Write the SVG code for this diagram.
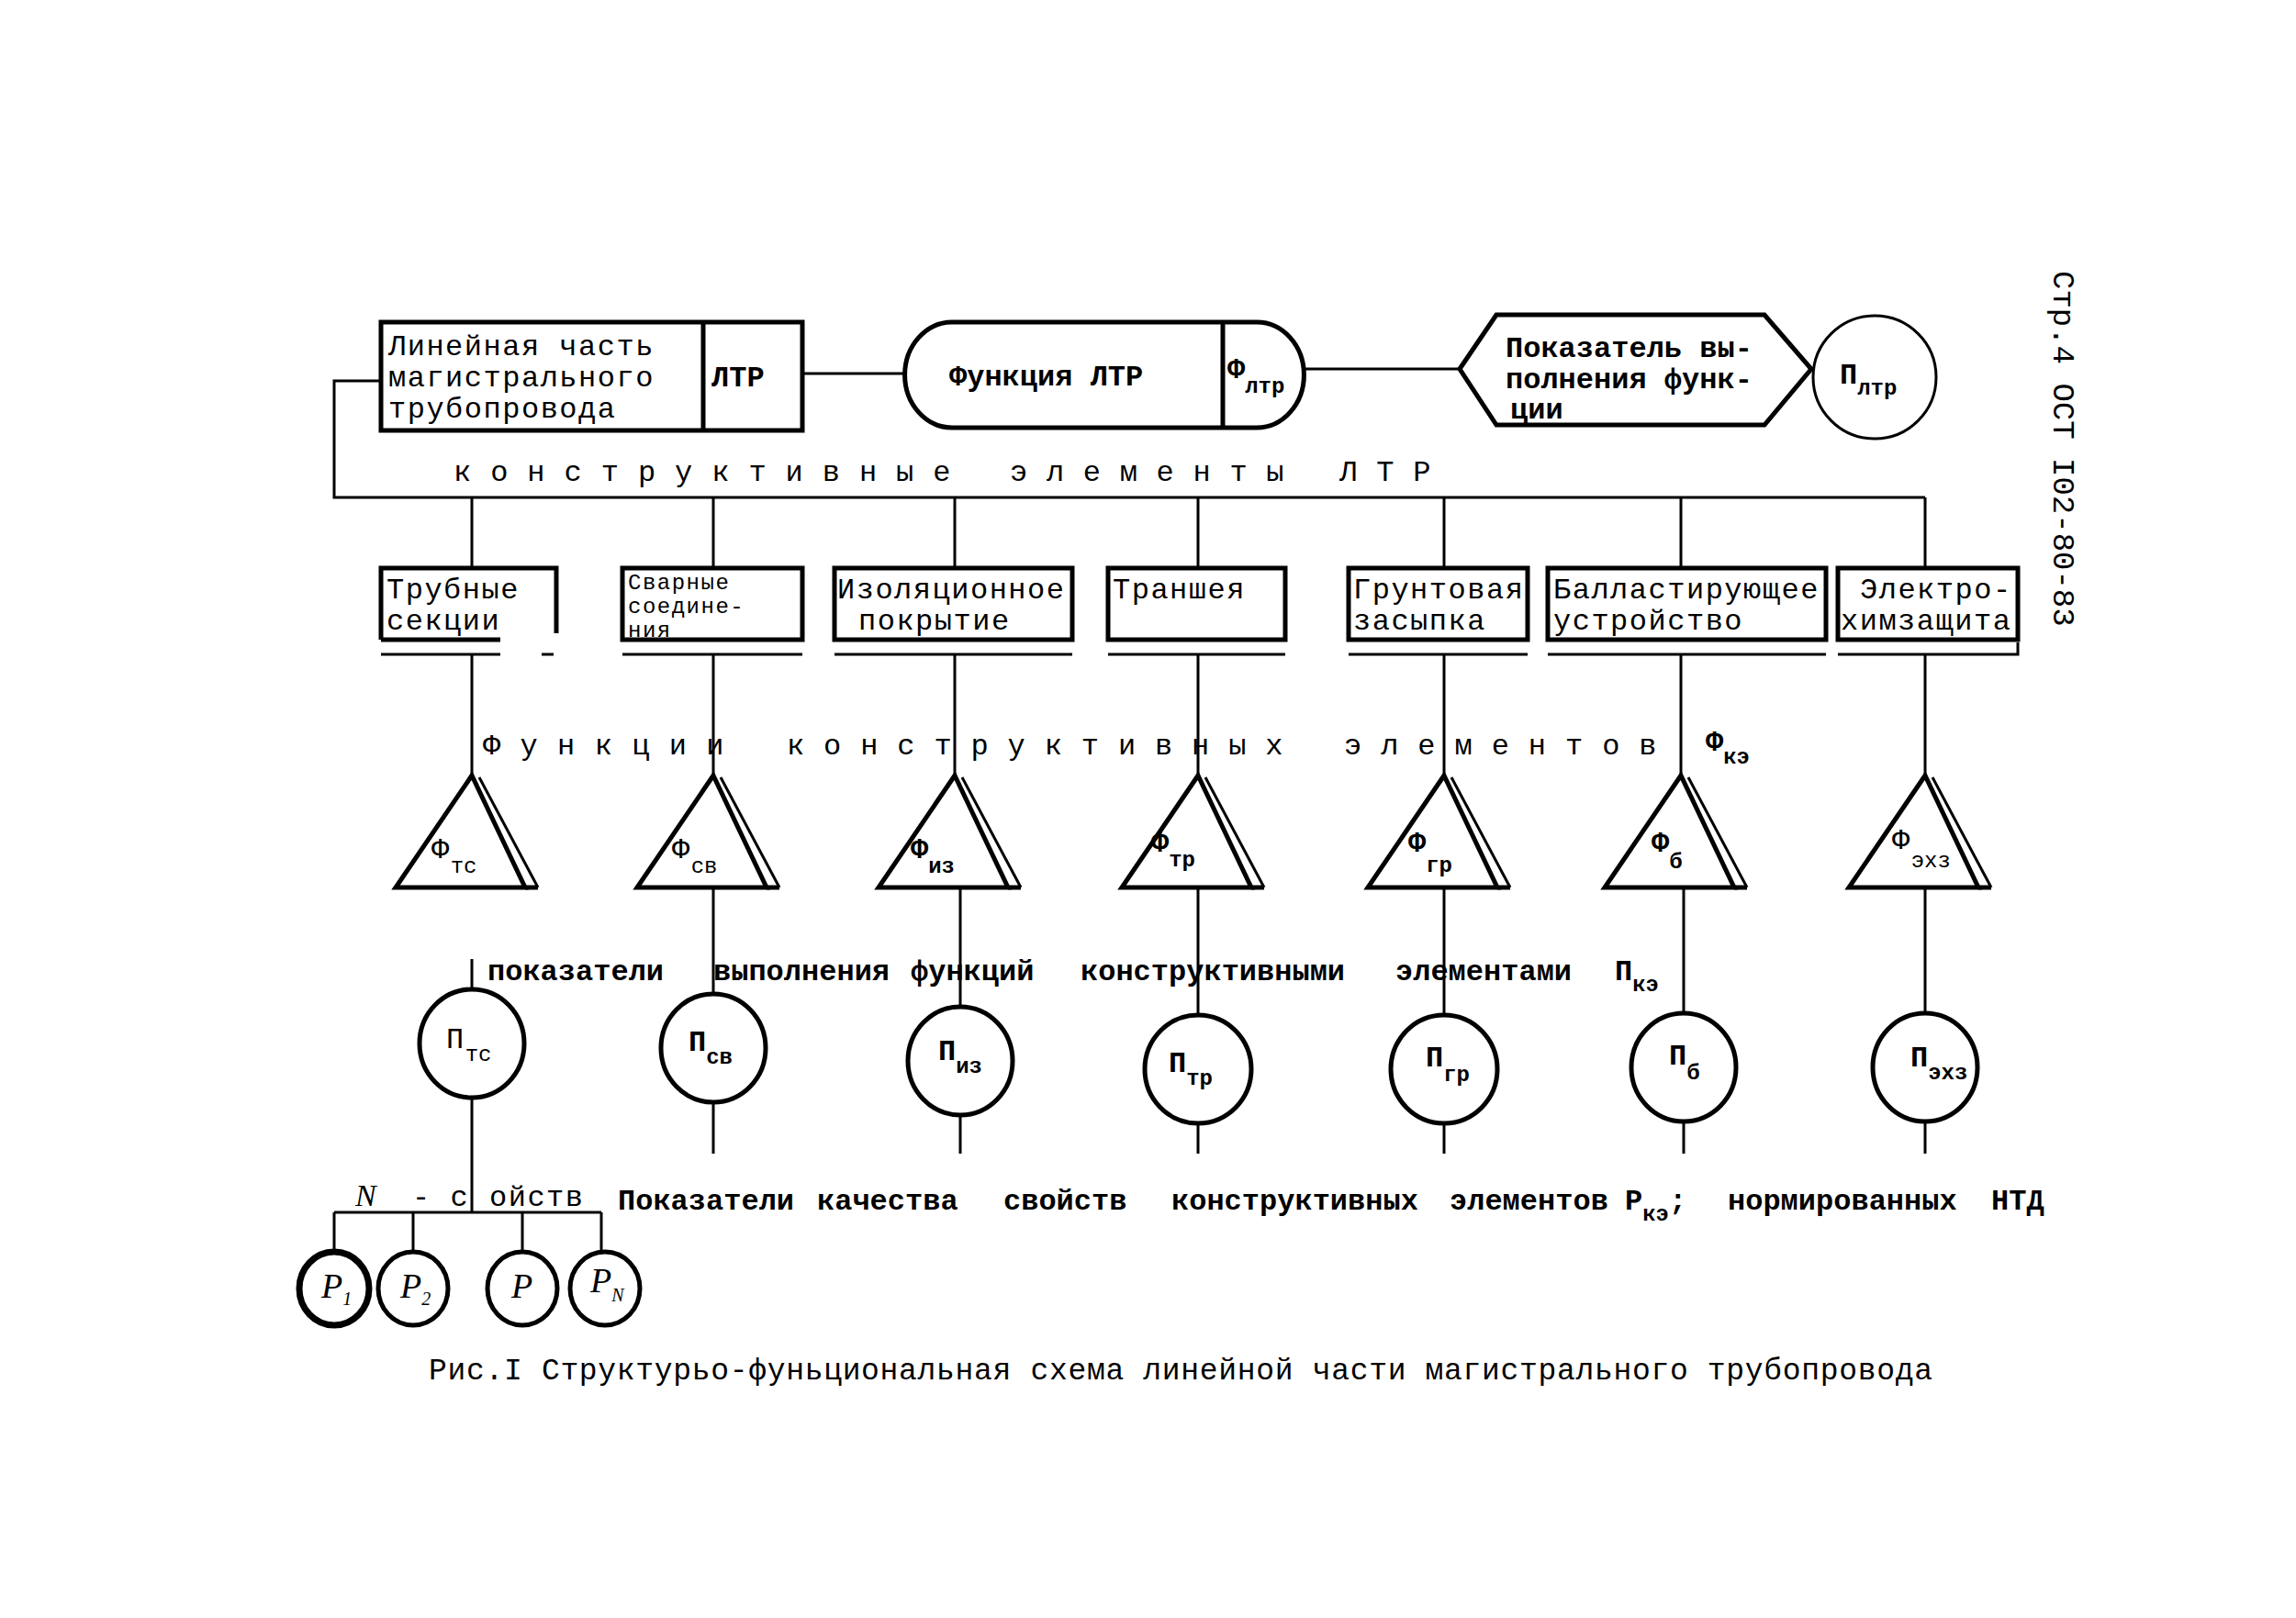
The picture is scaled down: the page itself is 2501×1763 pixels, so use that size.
<svg xmlns="http://www.w3.org/2000/svg" width="2501" height="1763" viewBox="0 0 2501 1763">
<style>
.n{fill:none;stroke:#000;stroke-width:5}
.c{fill:none;stroke:#000;stroke-width:3}
.t{font-family:"Liberation Mono","DejaVu Sans Mono",monospace;font-size:32px;letter-spacing:1.5px;fill:#000}
.b{font-weight:bold;letter-spacing:0}
.s{font-size:24px;letter-spacing:0}
.i{font-family:"Liberation Serif",serif;font-style:italic;font-size:38px;fill:#000}
</style>
<defs>
  <g id="tri">
    <path class="n" d="M0 0 L-83 122 H58 Z"/>
    <path class="n" d="M58 122 H72"/>
    <path class="c" d="M8 2 L72 122"/>
  </g>
</defs>
<rect width="2501" height="1763" fill="#fff"/>

<g id="connectors">
  <path class="c" d="M874 407 H986"/>
  <path class="c" d="M1420 402 H1590"/>
  <path class="c" d="M415 415 H364 V542 H2097"/>
  <path class="c" d="M514 542 V619 M777 542 V619 M1040 542 V619 M1305 542 V619 M1573 542 V619 M1831 542 V619 M2097 542 V619"/>
  <path class="c" d="M514 713 V845 M777 713 V845 M1040 713 V845 M1305 713 V845 M1573 713 V845 M1831 713 V845 M2097 713 V845"/>
  <path class="c" d="M514 1045 V1078 M777 967 V1083 M1046 967 V1097 M1305 967 V1106 M1573 967 V1106 M1834 967 V1104 M2097 967 V1104"/>
  <path class="c" d="M514 1196 V1321 M777 1201 V1257 M1046 1215 V1257 M1305 1224 V1257 M1573 1224 V1257 M1834 1222 V1257 M2097 1222 V1257"/>
  <path class="c" d="M364 1321 H655 M364 1321 V1364 M450 1321 V1364 M569 1321 V1364 M655 1321 V1364"/>
</g>

<g id="ltr-box">
  <rect class="n" x="415" y="351" width="459" height="118"/>
  <path class="n" d="M766 351 V469"/>
  <text class="t" x="423" y="387">Линейная часть</text>
  <text class="t" x="423" y="421">магистрального</text>
  <text class="t" x="423" y="455">трубопровода</text>
  <text class="t b" x="775" y="421">ЛТР</text>
</g>

<g id="ltr-function">
  <path class="n" d="M1037 351 H1369 A51 57 0 0 1 1369 466 H1037 A51 57 0 0 1 1037 351 Z"/>
  <path class="n" d="M1332 351 V466"/>
  <text class="t b" x="1034" y="420">Функция ЛТР</text>
  <text class="t b" x="1337" y="412">Ф<tspan class="s" dy="16">лтр</tspan></text>
</g>

<g id="ltr-indicator">
  <path class="n" d="M1590 402 L1630 343 H1922 L1973 402 L1922 463 H1630 Z"/>
  <text class="t b" x="1640" y="389">Показатель вы-</text>
  <text class="t b" x="1640" y="423">полнения функ-</text>
  <text class="t b" x="1645" y="456">ции</text>
</g>

<g id="p-ltr">
  <circle class="c" cx="2042" cy="411" r="67"/>
  <text class="t b" x="2004" y="418">П<tspan class="s" dy="12">лтр</tspan></text>
</g>

<g id="label-elements">
  <text class="t" x="494" y="524" textLength="543" lengthAdjust="spacing">к о н с т р у к т и в н ы е</text>
  <text class="t" x="1100" y="524" textLength="300" lengthAdjust="spacing">э л е м е н т ы</text>
  <text class="t" x="1459" y="524" textLength="101" lengthAdjust="spacing">Л Т Р</text>
</g>

<g id="el-1">
  <path class="n" d="M415 697 V619 H606 V690"/>
  <path class="n" d="M415 697 H545"/>
  <path class="c" d="M415 713 H545 M590 713 H603"/>
  <text class="t" x="421" y="652">Трубные</text>
  <text class="t" x="421" y="686">секции</text>
</g>
<g id="el-2">
  <rect class="n" x="678" y="619" width="196" height="78"/>
  <path class="c" d="M678 713 H874"/>
  <text class="t" x="684" y="642" style="font-size:24px">Сварные</text>
  <text class="t" x="684" y="668" style="font-size:24px">соедине-</text>
  <text class="t" x="684" y="694" style="font-size:24px">ния</text>
</g>
<g id="el-3">
  <rect class="n" x="909" y="619" width="259" height="78"/>
  <path class="c" d="M909 713 H1168"/>
  <text class="t" x="912" y="652">Изоляционное</text>
  <text class="t" x="935" y="686">покрытие</text>
</g>
<g id="el-4">
  <rect class="n" x="1207" y="619" width="193" height="78"/>
  <path class="c" d="M1207 713 H1400"/>
  <text class="t" x="1212" y="652">Траншея</text>
</g>
<g id="el-5">
  <rect class="n" x="1469" y="619" width="195" height="78"/>
  <path class="c" d="M1469 713 H1664"/>
  <text class="t" x="1474" y="652">Грунтовая</text>
  <text class="t" x="1474" y="686">засыпка</text>
</g>
<g id="el-6">
  <rect class="n" x="1686" y="619" width="303" height="78"/>
  <path class="c" d="M1686 713 H1989"/>
  <text class="t" x="1692" y="652">Балластирующее</text>
  <text class="t" x="1692" y="686">устройство</text>
</g>
<g id="el-7">
  <rect class="n" x="2002" y="619" width="196" height="78"/>
  <path class="c" d="M2002 713 H2198 V700"/>
  <text class="t" x="2026" y="652">Электро-</text>
  <text class="t" x="2005" y="686">химзащита</text>
</g>

<g id="label-functions">
  <text class="t" x="526" y="822" textLength="264" lengthAdjust="spacing">Ф у н к ц и и</text>
  <text class="t" x="857" y="822" textLength="542" lengthAdjust="spacing">к о н с т р у к т и в н ы х</text>
  <text class="t" x="1464" y="822" textLength="342" lengthAdjust="spacing">э л е м е н т о в</text>
  <text class="t b" x="1858" y="818">Ф<tspan class="s" dy="14">кэ</tspan></text>
</g>

<g id="f-1">
  <use href="#tri" x="514" y="845"/>
  <text class="t" x="470" y="935">Ф<tspan class="s" dy="16">тс</tspan></text>
</g>
<g id="f-2">
  <use href="#tri" x="777" y="845"/>
  <text class="t" x="732" y="935">Ф<tspan class="s" dy="16">св</tspan></text>
</g>
<g id="f-3">
  <use href="#tri" x="1040" y="845"/>
  <text class="t b" x="992" y="935">Ф<tspan class="s" dy="16">из</tspan></text>
</g>
<g id="f-4">
  <use href="#tri" x="1305" y="845"/>
  <text class="t b" x="1254" y="928">Ф<tspan class="s" dy="16">тр</tspan></text>
</g>
<g id="f-5">
  <use href="#tri" x="1573" y="845"/>
  <text class="t b" x="1534" y="928">Ф<tspan class="s" dy="22">гр</tspan></text>
</g>
<g id="f-6">
  <use href="#tri" x="1831" y="845"/>
  <text class="t b" x="1799" y="928">Ф<tspan class="s" dy="18">б</tspan></text>
</g>
<g id="f-7">
  <use href="#tri" x="2097" y="845"/>
  <text class="t" x="2061" y="925">Ф<tspan class="s" dy="20">эхз</tspan></text>
</g>

<g id="pke-label">
  <text class="t b" x="531" y="1068">показатели</text>
  <text class="t b" x="777" y="1068">выполнения</text>
  <text class="t b" x="992" y="1068">функций</text>
  <text class="t b" x="1177" y="1068">конструктивными</text>
  <text class="t b" x="1520" y="1068">элементами</text>
  <text class="t b" x="1759" y="1068">П<tspan class="s" dy="12">кэ</tspan></text>
</g>

<g id="p-1">
  <ellipse class="n" cx="514" cy="1137" rx="57" ry="59"/>
  <text class="t" x="486" y="1142">П<tspan class="s" dy="14">тс</tspan></text>
</g>
<g id="p-2">
  <ellipse class="n" cx="777" cy="1142" rx="57" ry="59"/>
  <text class="t b" x="750" y="1145">П<tspan class="s" dy="14">св</tspan></text>
</g>
<g id="p-3">
  <ellipse class="n" cx="1046" cy="1156" rx="57" ry="59"/>
  <text class="t b" x="1022" y="1155">П<tspan class="s" dy="14">из</tspan></text>
</g>
<g id="p-4">
  <ellipse class="n" cx="1305" cy="1165" rx="58" ry="59"/>
  <text class="t b" x="1273" y="1168">П<tspan class="s" dy="14">тр</tspan></text>
</g>
<g id="p-5">
  <ellipse class="n" cx="1573" cy="1165" rx="58" ry="59"/>
  <text class="t b" x="1553" y="1162">П<tspan class="s" dy="16">гр</tspan></text>
</g>
<g id="p-6">
  <ellipse class="n" cx="1834" cy="1163" rx="57" ry="59"/>
  <text class="t b" x="1818" y="1160">П<tspan class="s" dy="16">б</tspan></text>
</g>
<g id="p-7">
  <ellipse class="n" cx="2097" cy="1163" rx="57" ry="59"/>
  <text class="t b" x="2081" y="1162">П<tspan class="s" dy="14">эхз</tspan></text>
</g>

<g id="n-props-label">
  <text class="i" x="387" y="1314" style="font-size:34px">N</text>
  <text class="t" x="449" y="1314">- с</text>
  <text class="t" x="533" y="1314">ойств</text>
</g>
<g id="pke-quality">
  <text class="t b" x="673" y="1318">Показатели</text>
  <text class="t b" x="890" y="1318">качества</text>
  <text class="t b" x="1093" y="1318">свойств</text>
  <text class="t b" x="1276" y="1318">конструктивных</text>
  <text class="t b" x="1579" y="1318">элементов</text>
  <text class="t b" x="1770" y="1318">P<tspan class="s" dy="12">кэ</tspan><tspan dy="-12">;</tspan></text>
  <text class="t b" x="1882" y="1318">нормированных</text>
  <text class="t b" x="2169" y="1318">НТД</text>
</g>

<g id="prop-1">
  <ellipse class="n" cx="364" cy="1404" rx="38" ry="40" style="stroke-width:7"/>
  <text class="i" x="350" y="1414">P<tspan style="font-size:20px" dy="8">1</tspan></text>
</g>
<g id="prop-2">
  <ellipse class="n" cx="450" cy="1404" rx="38" ry="40"/>
  <text class="i" x="436" y="1414">P<tspan style="font-size:20px" dy="8">2</tspan></text>
</g>
<g id="prop-3">
  <ellipse class="n" cx="569" cy="1404" rx="38" ry="40"/>
  <text class="i" x="557" y="1414">P</text>
</g>
<g id="prop-4">
  <ellipse class="n" cx="659" cy="1404" rx="38" ry="40"/>
  <text class="i" x="643" y="1408">P<tspan style="font-size:20px" dy="10">N</tspan></text>
</g>

<text class="t" x="467" y="1503" style="font-size:33px;letter-spacing:0" textLength="1638" lengthAdjust="spacing">Рис.I  Структурьо-фуньциональная схема линейной части магистрального трубопровода</text>

<text class="t" transform="translate(2237,295) rotate(90)" style="font-size:34px;letter-spacing:0">Стр.4 ОСТ I02-80-83</text>
</svg>
